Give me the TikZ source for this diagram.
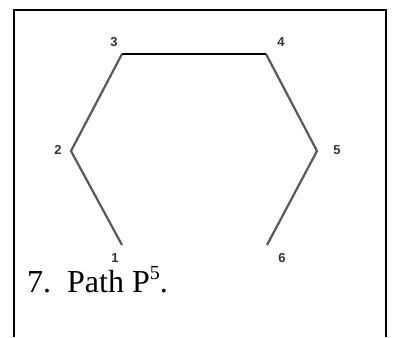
\documentclass[tikz,border=0pt]{standalone}
\usepackage{fontspec}
\setmainfont{Liberation Serif}
\setsansfont{Liberation Sans}
\usepackage{tikz}
\usetikzlibrary{positioning}

\begin{document}
\begin{tikzpicture}[x=1pt, y=1pt,
    edge/.style={line width=2.2pt, draw=black!65},
    num/.style={font=\sffamily\bfseries\fontsize{13}{13}\selectfont, text=black!80, inner sep=0pt}]
  \useasboundingbox (0,0) rectangle (393,337);
  % cell frame
  \draw[line width=1.4pt] (14,0) -- (14,327) -- (386,327) -- (386,0);
  % vertices
  \coordinate (v1) at (122,92);
  \coordinate (v2) at (71,186);
  \coordinate (v3) at (122,283);
  \coordinate (v4) at (266,283);
  \coordinate (v5) at (317,186);
  \coordinate (v6) at (267,92);
  \draw[edge] (v1) -- (v2) -- (v3);
  \draw[edge] (v4) -- (v5) -- (v6);
  \draw[line width=1.8pt] (v3) -- (v4);
  % labels
  \node[num] (n1) at (115,79) {1};
  \node[num] (n2) at (58,187) {2};
  \node[num] (n3) at (114,295) {3};
  \node[num] (n4) at (281,295) {4};
  \node[num] (n5) at (337,187) {5};
  \node[num] (n6) at (282,79) {6};
  \node[anchor=base west, inner sep=0pt, font=\fontsize{32}{32}\selectfont] (cap) at (27,44) {7.\ \ Path P\raisebox{0.42em}{\fontsize{20}{20}\selectfont 5}.};
\end{tikzpicture}
\end{document}
